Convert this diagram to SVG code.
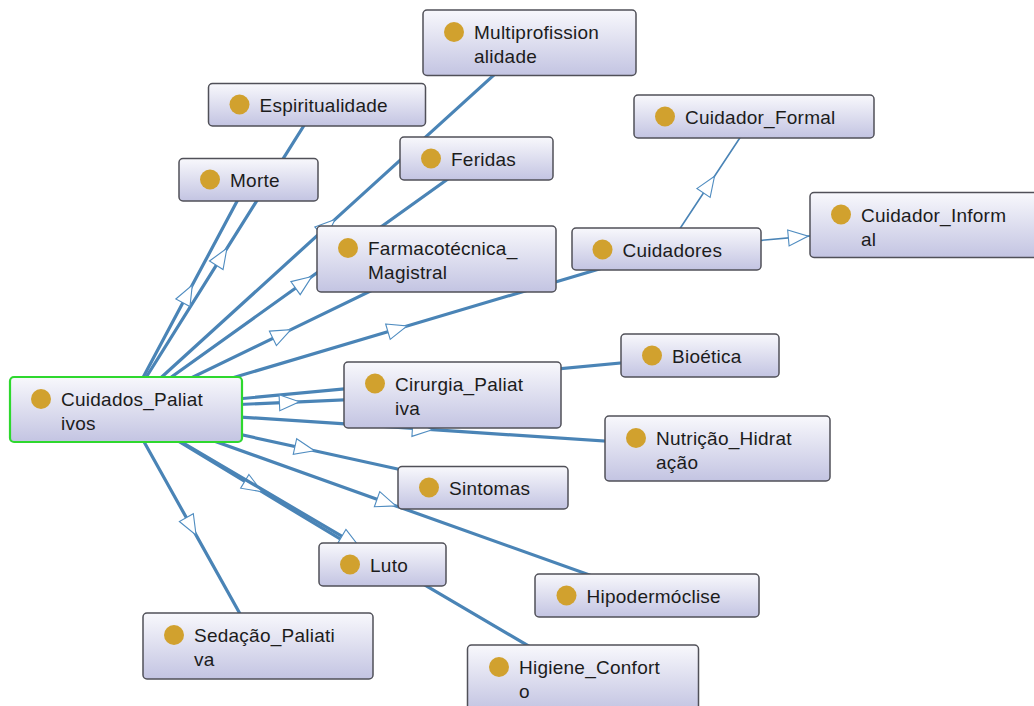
<svg xmlns="http://www.w3.org/2000/svg" width="1034" height="706" viewBox="0 0 1034 706">
<defs>
<linearGradient id="nodeFill" x1="0" y1="0" x2="0" y2="1">
<stop offset="0" stop-color="#f8f8fc"/>
<stop offset="1" stop-color="#c3c4e2"/>
</linearGradient>
<marker id="tri" markerUnits="userSpaceOnUse" markerWidth="24" markerHeight="20" refX="20" refY="8" orient="auto" overflow="visible">
<path d="M0,0 L20,8 L0,16 Z" fill="#ffffff" stroke="#4f8cc0" stroke-width="1.1" stroke-linejoin="miter"/>
</marker>
</defs>
<style>
.edge{fill:none;stroke:#4a84b6;stroke-width:3.2;marker-mid:url(#tri)}
.thin{stroke-width:1.6}
.box{fill:url(#nodeFill);stroke:#505058;stroke-width:1.5}
.root{stroke:#2ed82e;stroke-width:2.2}
.dot{fill:#d1a12e}
text{font-family:"Liberation Sans",Arial,sans-serif;font-size:19px;letter-spacing:0.25px;fill:#1c1c1c}
</style>
<rect width="1034" height="706" fill="#ffffff"/>
<g id="connectors">
<path class="edge" d="M126,409.5 L335,219.4 L529.5,42.75"/>
<path class="edge" d="M126,409.5 L226.9,248.3 L317,104.75"/>
<path class="edge" d="M126,409.5 L192.3,285.1 L248.5,179.75"/>
<path class="edge" d="M126,409.5 L311.8,276.5 L476.5,158.5"/>
<path class="edge" d="M126,409.5 L290.9,329.6 L436.5,259"/>
<path class="edge" d="M126,409.5 L407.1,326 L666.5,249"/>
<path class="edge" d="M126,409.5 L424.5,381.4 L700,355.5"/>
<path class="edge" d="M126,409.5 L299.4,401.8 L452.5,395"/>
<path class="edge" d="M126,409.5 L432.4,429.7 L717.5,448.5"/>
<path class="edge" d="M126,409.5 L314.5,450.8 L483,487.75"/>
<path class="edge" d="M126,409.5 L395.9,505.9 L647,595.5"/>
<path class="edge" d="M126,409.5 L261.9,491.7 L382.5,564.5"/>
<path class="edge" d="M126,409.5 L359.1,546.4 L583,678"/>
<path class="edge" d="M126,409.5 L196.1,535.1 L258,646"/>
<path class="edge thin" d="M666.5,249 L714.5,176.3 L754,116.5"/>
<path class="edge thin" d="M666.5,249 L808.3,236.1 L930,225"/>
</g>
<g id="node-cuidados-paliativos">
<rect class="box root" x="10" y="377" width="232" height="65" rx="4"/>
<circle class="dot" cx="41" cy="399" r="10"/>
<text x="61" y="406">Cuidados_Paliat</text>
<text x="61" y="430">ivos</text>
</g>
<g id="node-multiprofissionalidade">
<rect class="box" x="423" y="10" width="213" height="65.5" rx="4"/>
<circle class="dot" cx="454" cy="32" r="10"/>
<text x="474" y="39">Multiprofission</text>
<text x="474" y="63">alidade</text>
</g>
<g id="node-espiritualidade">
<rect class="box" x="208.5" y="83.5" width="217" height="42.5" rx="4"/>
<circle class="dot" cx="239.5" cy="104.5" r="10"/>
<text x="259.5" y="111.5">Espiritualidade</text>
</g>
<g id="node-morte">
<rect class="box" x="179" y="158.5" width="139" height="42.5" rx="4"/>
<circle class="dot" cx="210" cy="179.5" r="10"/>
<text x="230" y="186.5">Morte</text>
</g>
<g id="node-feridas">
<rect class="box" x="400" y="137" width="153" height="43" rx="4"/>
<circle class="dot" cx="431" cy="158.5" r="10"/>
<text x="451" y="165.5">Feridas</text>
</g>
<g id="node-farmacotecnica">
<rect class="box" x="317" y="226" width="239" height="66" rx="4"/>
<circle class="dot" cx="348" cy="248" r="10"/>
<text x="368" y="255">Farmacotécnica_</text>
<text x="368" y="279">Magistral</text>
</g>
<g id="node-cuidadores">
<rect class="box" x="572" y="228" width="189" height="42" rx="4"/>
<circle class="dot" cx="602.5" cy="249.5" r="10"/>
<text x="622.5" y="256.5">Cuidadores</text>
</g>
<g id="node-cuidador-formal">
<rect class="box" x="634" y="95" width="240" height="43" rx="4"/>
<circle class="dot" cx="665" cy="116.5" r="10"/>
<text x="685" y="123.5">Cuidador_Formal</text>
</g>
<g id="node-cuidador-informal">
<rect class="box" x="810" y="192.5" width="240" height="65" rx="4"/>
<circle class="dot" cx="841" cy="214.5" r="10"/>
<text x="861" y="221.5">Cuidador_Inform</text>
<text x="861" y="245.5">al</text>
</g>
<g id="node-bioetica">
<rect class="box" x="621" y="334" width="158" height="43" rx="4"/>
<circle class="dot" cx="652" cy="355.5" r="10"/>
<text x="672" y="362.5">Bioética</text>
</g>
<g id="node-cirurgia-paliativa">
<rect class="box" x="344" y="362" width="217" height="66" rx="4"/>
<circle class="dot" cx="375" cy="383.5" r="10"/>
<text x="395" y="390.5">Cirurgia_Paliat</text>
<text x="395" y="414.5">iva</text>
</g>
<g id="node-nutricao-hidratacao">
<rect class="box" x="605" y="416" width="225" height="65" rx="4"/>
<circle class="dot" cx="636" cy="438" r="10"/>
<text x="656" y="445">Nutrição_Hidrat</text>
<text x="656" y="469">ação</text>
</g>
<g id="node-sintomas">
<rect class="box" x="398" y="466.5" width="170" height="42.5" rx="4"/>
<circle class="dot" cx="429" cy="487.5" r="10"/>
<text x="449" y="494.5">Sintomas</text>
</g>
<g id="node-luto">
<rect class="box" x="319" y="543" width="127" height="43" rx="4"/>
<circle class="dot" cx="350" cy="564.5" r="10"/>
<text x="370" y="571.5">Luto</text>
</g>
<g id="node-hipodermoclise">
<rect class="box" x="535" y="574" width="224" height="43" rx="4"/>
<circle class="dot" cx="566.5" cy="595.5" r="10"/>
<text x="586.5" y="602.5">Hipodermóclise</text>
</g>
<g id="node-sedacao-paliativa">
<rect class="box" x="143" y="613" width="230" height="66" rx="4"/>
<circle class="dot" cx="174" cy="635" r="10"/>
<text x="194" y="642">Sedação_Paliati</text>
<text x="194" y="666">va</text>
</g>
<g id="node-higiene-conforto">
<rect class="box" x="467.5" y="645" width="231" height="66" rx="4"/>
<circle class="dot" cx="499" cy="667" r="10"/>
<text x="519" y="674">Higiene_Confort</text>
<text x="519" y="698">o</text>
</g>
</svg>
